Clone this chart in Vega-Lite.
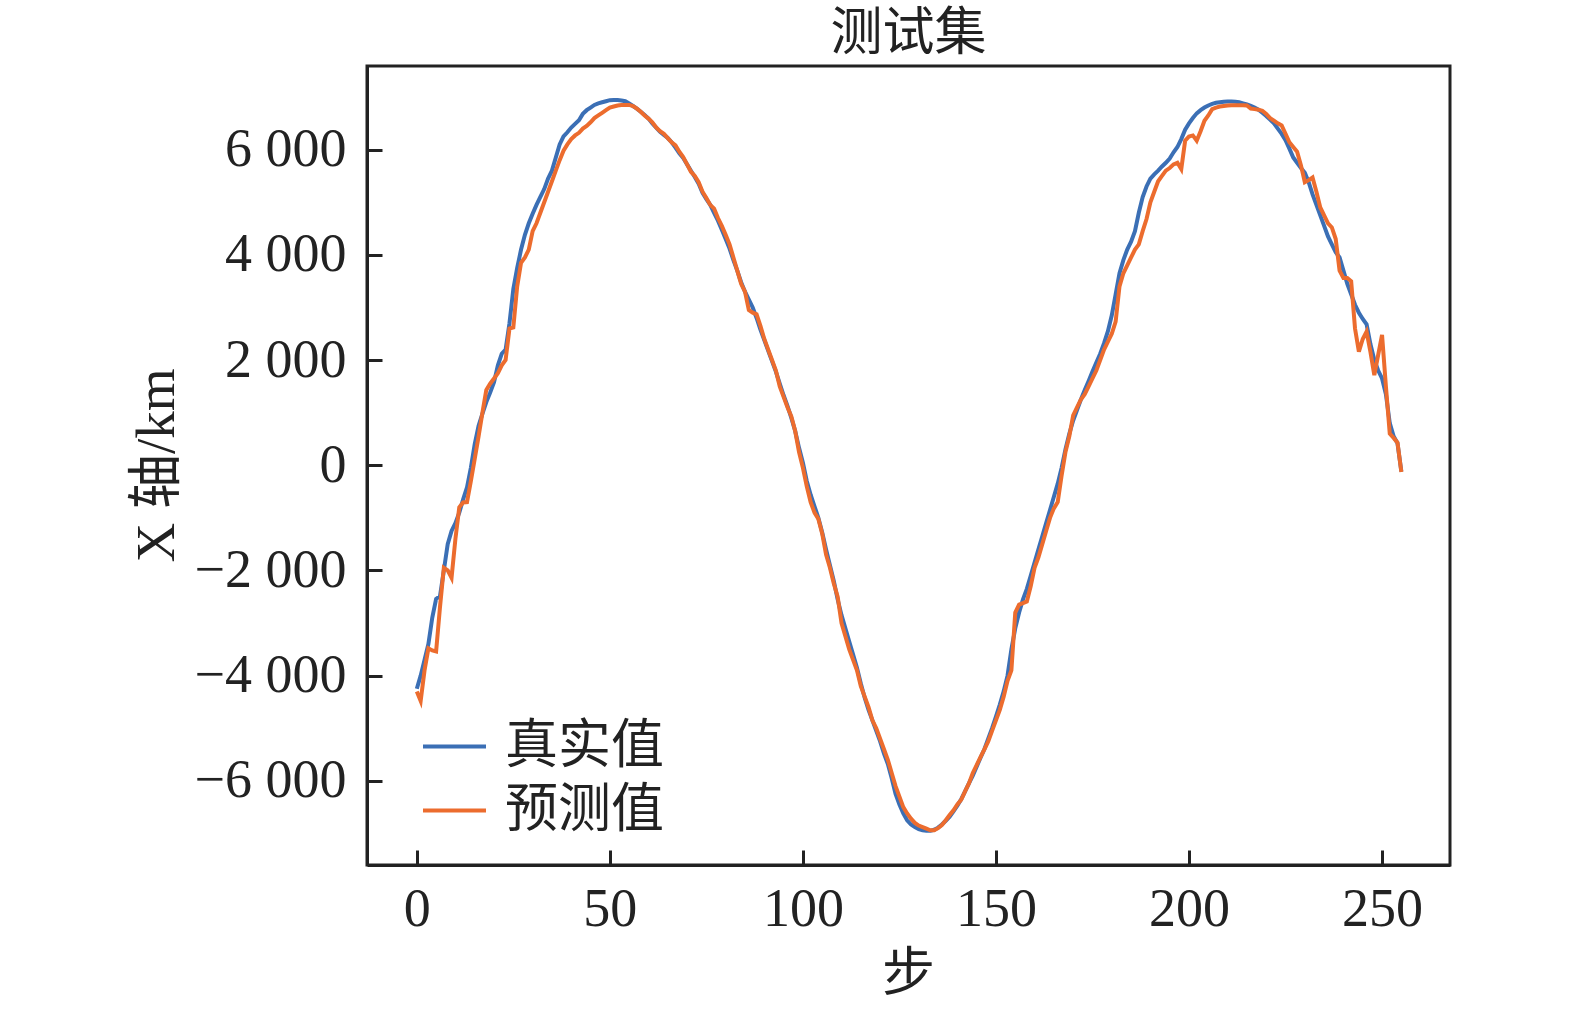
{
  "$schema": "https://vega.github.io/schema/vega-lite/v6.json",
  "width": 1083,
  "height": 799,
  "autosize": {"type": "none"},
  "padding": {"left": 367, "top": 66, "right": 125, "bottom": 145},
  "background": "white",
  "title": {
    "text": "测试集",
    "font": "Liberation Serif, Noto Sans CJK SC",
    "fontSize": 52,
    "fontWeight": "normal",
    "color": "#222222",
    "anchor": "middle",
    "frame": "group",
    "offset": 5
  },
  "data": {
    "values": [
      {"step": 0, "truth": -4250, "pred": -4300},
      {"step": 1, "truth": -4000, "pred": -4480},
      {"step": 2, "truth": -3700, "pred": -3900},
      {"step": 3, "truth": -3400, "pred": -3480},
      {"step": 4, "truth": -2900, "pred": -3520},
      {"step": 5, "truth": -2540, "pred": -3540},
      {"step": 6, "truth": -2490, "pred": -2700},
      {"step": 7, "truth": -2000, "pred": -1950},
      {"step": 8, "truth": -1500, "pred": -2000},
      {"step": 9, "truth": -1250, "pred": -2140},
      {"step": 10, "truth": -1100, "pred": -1400},
      {"step": 11, "truth": -900, "pred": -800},
      {"step": 12, "truth": -650, "pred": -707},
      {"step": 13, "truth": -420, "pred": -700},
      {"step": 14, "truth": -50, "pred": -300},
      {"step": 15, "truth": 400, "pred": 121},
      {"step": 16, "truth": 750, "pred": 550},
      {"step": 17, "truth": 980, "pred": 1000},
      {"step": 18, "truth": 1200, "pred": 1430},
      {"step": 19, "truth": 1380, "pred": 1550},
      {"step": 20, "truth": 1580, "pred": 1650},
      {"step": 21, "truth": 1900, "pred": 1750},
      {"step": 22, "truth": 2120, "pred": 1900},
      {"step": 23, "truth": 2200, "pred": 2000},
      {"step": 24, "truth": 2700, "pred": 2600},
      {"step": 25, "truth": 3350, "pred": 2620},
      {"step": 26, "truth": 3750, "pred": 3400},
      {"step": 27, "truth": 4100, "pred": 3850},
      {"step": 28, "truth": 4380, "pred": 3950},
      {"step": 29, "truth": 4600, "pred": 4100},
      {"step": 30, "truth": 4780, "pred": 4450},
      {"step": 31, "truth": 4950, "pred": 4600},
      {"step": 32, "truth": 5100, "pred": 4800},
      {"step": 33, "truth": 5250, "pred": 5000},
      {"step": 34, "truth": 5450, "pred": 5200},
      {"step": 35, "truth": 5600, "pred": 5400},
      {"step": 36, "truth": 5850, "pred": 5600},
      {"step": 37, "truth": 6100, "pred": 5800},
      {"step": 38, "truth": 6250, "pred": 5980},
      {"step": 39, "truth": 6330, "pred": 6100},
      {"step": 40, "truth": 6420, "pred": 6200},
      {"step": 41, "truth": 6490, "pred": 6270},
      {"step": 42, "truth": 6560, "pred": 6320},
      {"step": 43, "truth": 6680, "pred": 6400},
      {"step": 44, "truth": 6750, "pred": 6450},
      {"step": 45, "truth": 6800, "pred": 6520},
      {"step": 46, "truth": 6850, "pred": 6600},
      {"step": 47, "truth": 6880, "pred": 6650},
      {"step": 48, "truth": 6900, "pred": 6700},
      {"step": 49, "truth": 6920, "pred": 6750},
      {"step": 50, "truth": 6940, "pred": 6800},
      {"step": 51, "truth": 6945, "pred": 6820},
      {"step": 52, "truth": 6945, "pred": 6840},
      {"step": 53, "truth": 6935, "pred": 6850},
      {"step": 54, "truth": 6920, "pred": 6850},
      {"step": 55, "truth": 6880, "pred": 6850},
      {"step": 56, "truth": 6830, "pred": 6830},
      {"step": 57, "truth": 6780, "pred": 6780},
      {"step": 58, "truth": 6720, "pred": 6720},
      {"step": 59, "truth": 6660, "pred": 6650},
      {"step": 60, "truth": 6590, "pred": 6590},
      {"step": 61, "truth": 6500, "pred": 6520},
      {"step": 62, "truth": 6420, "pred": 6420},
      {"step": 63, "truth": 6340, "pred": 6350},
      {"step": 64, "truth": 6280, "pred": 6300},
      {"step": 65, "truth": 6220, "pred": 6220},
      {"step": 66, "truth": 6140, "pred": 6140},
      {"step": 67, "truth": 6040, "pred": 6080},
      {"step": 68, "truth": 5930, "pred": 5960},
      {"step": 69, "truth": 5840, "pred": 5860},
      {"step": 70, "truth": 5720, "pred": 5720},
      {"step": 71, "truth": 5600, "pred": 5580},
      {"step": 72, "truth": 5480, "pred": 5500},
      {"step": 73, "truth": 5350, "pred": 5380},
      {"step": 74, "truth": 5180, "pred": 5200},
      {"step": 75, "truth": 5060, "pred": 5080},
      {"step": 76, "truth": 4950, "pred": 4950},
      {"step": 77, "truth": 4800, "pred": 4880},
      {"step": 78, "truth": 4650, "pred": 4700},
      {"step": 79, "truth": 4480, "pred": 4550},
      {"step": 80, "truth": 4300, "pred": 4380},
      {"step": 81, "truth": 4120, "pred": 4200},
      {"step": 82, "truth": 3900, "pred": 3950},
      {"step": 83, "truth": 3700, "pred": 3700},
      {"step": 84, "truth": 3480, "pred": 3450},
      {"step": 85, "truth": 3300, "pred": 3300},
      {"step": 86, "truth": 3150, "pred": 2950},
      {"step": 87, "truth": 3000, "pred": 2900},
      {"step": 88, "truth": 2800, "pred": 2870},
      {"step": 89, "truth": 2580, "pred": 2650},
      {"step": 90, "truth": 2380, "pred": 2400},
      {"step": 91, "truth": 2180, "pred": 2200},
      {"step": 92, "truth": 1980, "pred": 2000},
      {"step": 93, "truth": 1780, "pred": 1800},
      {"step": 94, "truth": 1550, "pred": 1500},
      {"step": 95, "truth": 1330, "pred": 1300},
      {"step": 96, "truth": 1130, "pred": 1100},
      {"step": 97, "truth": 900, "pred": 930},
      {"step": 98, "truth": 650, "pred": 650},
      {"step": 99, "truth": 330, "pred": 250},
      {"step": 100, "truth": 50, "pred": -50},
      {"step": 101, "truth": -300, "pred": -400},
      {"step": 102, "truth": -560, "pred": -700},
      {"step": 103, "truth": -780, "pred": -900},
      {"step": 104, "truth": -1000, "pred": -1020},
      {"step": 105, "truth": -1280, "pred": -1300},
      {"step": 106, "truth": -1600, "pred": -1700},
      {"step": 107, "truth": -1900, "pred": -1950},
      {"step": 108, "truth": -2200, "pred": -2250},
      {"step": 109, "truth": -2550, "pred": -2500},
      {"step": 110, "truth": -2850, "pred": -3000},
      {"step": 111, "truth": -3100, "pred": -3250},
      {"step": 112, "truth": -3350, "pred": -3500},
      {"step": 113, "truth": -3600, "pred": -3700},
      {"step": 114, "truth": -3850, "pred": -3900},
      {"step": 115, "truth": -4150, "pred": -4200},
      {"step": 116, "truth": -4420, "pred": -4400},
      {"step": 117, "truth": -4650, "pred": -4600},
      {"step": 118, "truth": -4850, "pred": -4850},
      {"step": 119, "truth": -5050, "pred": -5000},
      {"step": 120, "truth": -5250, "pred": -5200},
      {"step": 121, "truth": -5480, "pred": -5400},
      {"step": 122, "truth": -5680, "pred": -5600},
      {"step": 123, "truth": -5950, "pred": -5850},
      {"step": 124, "truth": -6250, "pred": -6100},
      {"step": 125, "truth": -6450, "pred": -6300},
      {"step": 126, "truth": -6620, "pred": -6500},
      {"step": 127, "truth": -6750, "pred": -6620},
      {"step": 128, "truth": -6830, "pred": -6720},
      {"step": 129, "truth": -6880, "pred": -6800},
      {"step": 130, "truth": -6920, "pred": -6850},
      {"step": 131, "truth": -6940, "pred": -6880},
      {"step": 132, "truth": -6950, "pred": -6910},
      {"step": 133, "truth": -6950, "pred": -6940},
      {"step": 134, "truth": -6930, "pred": -6940},
      {"step": 135, "truth": -6890, "pred": -6900},
      {"step": 136, "truth": -6830, "pred": -6840},
      {"step": 137, "truth": -6760, "pred": -6750},
      {"step": 138, "truth": -6680, "pred": -6650},
      {"step": 139, "truth": -6580, "pred": -6560},
      {"step": 140, "truth": -6470, "pred": -6450},
      {"step": 141, "truth": -6350, "pred": -6360},
      {"step": 142, "truth": -6200, "pred": -6200},
      {"step": 143, "truth": -6050, "pred": -6050},
      {"step": 144, "truth": -5900, "pred": -5850},
      {"step": 145, "truth": -5730, "pred": -5700},
      {"step": 146, "truth": -5560, "pred": -5550},
      {"step": 147, "truth": -5400, "pred": -5400},
      {"step": 148, "truth": -5200, "pred": -5250},
      {"step": 149, "truth": -5000, "pred": -5050},
      {"step": 150, "truth": -4780, "pred": -4850},
      {"step": 151, "truth": -4550, "pred": -4650},
      {"step": 152, "truth": -4300, "pred": -4400},
      {"step": 153, "truth": -4000, "pred": -4100},
      {"step": 154, "truth": -3500, "pred": -3900},
      {"step": 155, "truth": -3100, "pred": -2800},
      {"step": 156, "truth": -2800, "pred": -2650},
      {"step": 157, "truth": -2550, "pred": -2620},
      {"step": 158, "truth": -2350, "pred": -2590},
      {"step": 159, "truth": -2100, "pred": -2300},
      {"step": 160, "truth": -1850, "pred": -1950},
      {"step": 161, "truth": -1600, "pred": -1750},
      {"step": 162, "truth": -1350, "pred": -1500},
      {"step": 163, "truth": -1100, "pred": -1250},
      {"step": 164, "truth": -850, "pred": -1000},
      {"step": 165, "truth": -600, "pred": -820},
      {"step": 166, "truth": -350, "pred": -700},
      {"step": 167, "truth": -50, "pred": -200},
      {"step": 168, "truth": 300, "pred": 250},
      {"step": 169, "truth": 600, "pred": 550},
      {"step": 170, "truth": 850, "pred": 950},
      {"step": 171, "truth": 1050, "pred": 1100},
      {"step": 172, "truth": 1250, "pred": 1250},
      {"step": 173, "truth": 1430, "pred": 1350},
      {"step": 174, "truth": 1600, "pred": 1500},
      {"step": 175, "truth": 1780, "pred": 1650},
      {"step": 176, "truth": 1950, "pred": 1800},
      {"step": 177, "truth": 2120, "pred": 2000},
      {"step": 178, "truth": 2320, "pred": 2200},
      {"step": 179, "truth": 2550, "pred": 2350},
      {"step": 180, "truth": 2850, "pred": 2500},
      {"step": 181, "truth": 3250, "pred": 2730},
      {"step": 182, "truth": 3650, "pred": 3400},
      {"step": 183, "truth": 3900, "pred": 3650},
      {"step": 184, "truth": 4100, "pred": 3800},
      {"step": 185, "truth": 4250, "pred": 3950},
      {"step": 186, "truth": 4450, "pred": 4100},
      {"step": 187, "truth": 4800, "pred": 4200},
      {"step": 188, "truth": 5100, "pred": 4450},
      {"step": 189, "truth": 5300, "pred": 4680},
      {"step": 190, "truth": 5450, "pred": 5000},
      {"step": 191, "truth": 5530, "pred": 5200},
      {"step": 192, "truth": 5600, "pred": 5400},
      {"step": 193, "truth": 5680, "pred": 5500},
      {"step": 194, "truth": 5750, "pred": 5600},
      {"step": 195, "truth": 5830, "pred": 5650},
      {"step": 196, "truth": 5950, "pred": 5720},
      {"step": 197, "truth": 6050, "pred": 5750},
      {"step": 198, "truth": 6200, "pred": 5630},
      {"step": 199, "truth": 6380, "pred": 6170},
      {"step": 200, "truth": 6500, "pred": 6250},
      {"step": 201, "truth": 6600, "pred": 6270},
      {"step": 202, "truth": 6690, "pred": 6170},
      {"step": 203, "truth": 6750, "pred": 6350},
      {"step": 204, "truth": 6800, "pred": 6550},
      {"step": 205, "truth": 6840, "pred": 6650},
      {"step": 206, "truth": 6870, "pred": 6770},
      {"step": 207, "truth": 6890, "pred": 6800},
      {"step": 208, "truth": 6900, "pred": 6820},
      {"step": 209, "truth": 6910, "pred": 6830},
      {"step": 210, "truth": 6915, "pred": 6840},
      {"step": 211, "truth": 6915, "pred": 6845},
      {"step": 212, "truth": 6910, "pred": 6845},
      {"step": 213, "truth": 6900, "pred": 6845},
      {"step": 214, "truth": 6880, "pred": 6845},
      {"step": 215, "truth": 6860, "pred": 6840},
      {"step": 216, "truth": 6830, "pred": 6780},
      {"step": 217, "truth": 6800, "pred": 6770},
      {"step": 218, "truth": 6760, "pred": 6760},
      {"step": 219, "truth": 6700, "pred": 6740},
      {"step": 220, "truth": 6640, "pred": 6680},
      {"step": 221, "truth": 6570, "pred": 6600},
      {"step": 222, "truth": 6500, "pred": 6550},
      {"step": 223, "truth": 6400, "pred": 6500},
      {"step": 224, "truth": 6300, "pred": 6460},
      {"step": 225, "truth": 6180, "pred": 6300},
      {"step": 226, "truth": 6020, "pred": 6140},
      {"step": 227, "truth": 5850, "pred": 6050},
      {"step": 228, "truth": 5750, "pred": 5960},
      {"step": 229, "truth": 5650, "pred": 5700},
      {"step": 230, "truth": 5560, "pred": 5380},
      {"step": 231, "truth": 5380, "pred": 5420},
      {"step": 232, "truth": 5150, "pred": 5470},
      {"step": 233, "truth": 4950, "pred": 5200},
      {"step": 234, "truth": 4750, "pred": 4900},
      {"step": 235, "truth": 4550, "pred": 4750},
      {"step": 236, "truth": 4350, "pred": 4600},
      {"step": 237, "truth": 4200, "pred": 4520},
      {"step": 238, "truth": 4050, "pred": 4300},
      {"step": 239, "truth": 3950, "pred": 3700},
      {"step": 240, "truth": 3700, "pred": 3560},
      {"step": 241, "truth": 3450, "pred": 3560},
      {"step": 242, "truth": 3250, "pred": 3500},
      {"step": 243, "truth": 3050, "pred": 2600},
      {"step": 244, "truth": 2900, "pred": 2160},
      {"step": 245, "truth": 2780, "pred": 2400},
      {"step": 246, "truth": 2680, "pred": 2540},
      {"step": 247, "truth": 2300, "pred": 2150},
      {"step": 248, "truth": 2000, "pred": 1714},
      {"step": 249, "truth": 1800, "pred": 2100},
      {"step": 250, "truth": 1650, "pred": 2480},
      {"step": 251, "truth": 1350, "pred": 1500},
      {"step": 252, "truth": 800, "pred": 600},
      {"step": 253, "truth": 550, "pred": 520},
      {"step": 254, "truth": 420, "pred": 430},
      {"step": 255, "truth": -120, "pred": -130}
    ]
  },
  "encoding": {
    "x": {
      "field": "step",
      "type": "quantitative",
      "scale": {"domain": [-12.9, 267.6], "nice": false, "zero": false},
      "axis": {
        "title": "步",
        "values": [0, 50, 100, 150, 200, 250],
        "titleX": 541,
        "titleY": 109,
        "titleAlign": "center",
        "titleBaseline": "middle",
        "labelPadding": 32
      }
    }
  },
  "layer": [
    {
      "mark": {"type": "line", "strokeWidth": 4, "clip": true},
      "encoding": {
        "y": {
          "field": "truth",
          "type": "quantitative",
          "scale": {"domain": [-7600, 7590], "nice": false, "zero": false},
          "axis": {
            "title": "X 轴/km",
            "values": [-6000, -4000, -2000, 0, 2000, 4000, 6000],
            "labelExpr": "replace(format(datum.value, ','), ',', ' ')",
            "titleX": -211,
            "titleY": 399,
            "titleAlign": "center",
            "titleBaseline": "middle",
            "titleAngle": -90,
            "titleFontSize": 55,
            "labelPadding": 36,
            "labelBaseline": "middle"
          }
        },
        "color": {"datum": "真实值"}
      }
    },
    {
      "mark": {"type": "line", "strokeWidth": 4, "clip": true},
      "encoding": {
        "y": {"field": "pred", "type": "quantitative"},
        "color": {"datum": "预测值"}
      }
    }
  ],
  "resolve": {"scale": {"y": "shared"}},
  "config": {
    "view": {"stroke": "#222222", "strokeWidth": 3},
    "range": {"category": ["#3b6fb5", "#ec6c2e"]},
    "axis": {
      "grid": false,
      "domainColor": "#222222",
      "domainWidth": 3,
      "tickColor": "#222222",
      "tickWidth": 3,
      "tickSize": -15,
      "labelFont": "Liberation Serif",
      "labelFontSize": 54,
      "labelColor": "#222222",
      "labelFlush": false,
      "labelOverlap": false,
      "titleFont": "Liberation Serif, Noto Sans CJK SC",
      "titleFontSize": 53,
      "titleFontWeight": "normal",
      "titleColor": "#222222"
    },
    "legend": {
      "orient": "none",
      "legendX": 54,
      "legendY": 647,
      "title": null,
      "padding": 0,
      "symbolType": "stroke",
      "symbolSize": 3969,
      "symbolStrokeWidth": 4,
      "labelFont": "Liberation Serif, Noto Sans CJK SC",
      "labelFontSize": 53,
      "labelColor": "#222222",
      "labelOffset": 17,
      "rowPadding": 3,
      "labelLimit": 400
    }
  }
}
